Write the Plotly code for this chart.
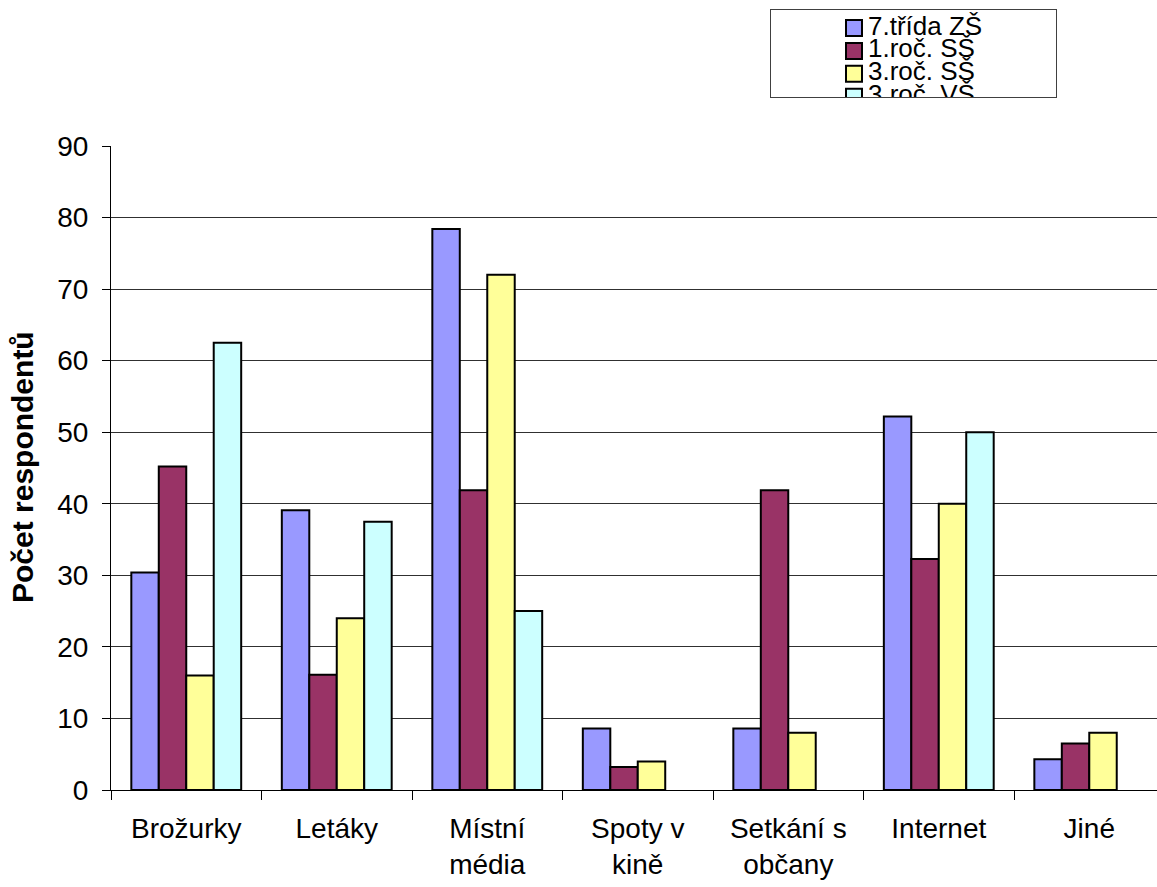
import plotly.graph_objects as go

categories = ["Brožurky", "Letáky", "Místní<br>média", "Spoty v<br>kině",
              "Setkání s<br>občany", "Internet", "Jiné"]

series_names = ["7.třída ZŠ", "1.roč. SŠ", "3.roč. SŠ", "3.roč. VŠ"]
trida7_zs = [30.4, 39.1, 78.4, 8.6, 8.6, 52.2, 4.3]
roc1_ss = [45.2, 16.1, 41.9, 3.2, 41.9, 32.3, 6.5]
roc3_ss = [16.0, 24.0, 72.0, 4.0, 8.0, 40.0, 8.0]
roc3_vs = [62.5, 37.5, 25.0, None, None, 50.0, None]

colors = ["#9999FF", "#993366", "#FFFF99", "#CCFFFF"]
values = [trida7_zs, roc1_ss, roc3_ss, roc3_vs]

FONT = "Liberation Sans, Arial, sans-serif"

# page geometry (pixels)
W, H = 1157, 887
ML, MR, MT, MB = 111, 0, 10, 97
PLOT_TOP = 146
LEG_BOX = (771, 1056, 10, 97)  # left, right, top, bottom

plot_h = H - MT - MB
plot_w = W - ML - MR


def py(y):
    return (H - MB - y) / plot_h


def px(x):
    return (x - ML) / plot_w


fig = go.Figure()
for name, vals, col in zip(series_names, values, colors):
    fig.add_trace(go.Bar(
        x=categories, y=vals, name=name, showlegend=False,
        marker=dict(color=col, line=dict(color="black", width=2)),
    ))

# boxed key in its own small axes, so the last row is clipped by the frame
row_y = [28 + 22.9 * i for i in range(len(series_names))]
fig.add_trace(go.Scatter(
    x=[854] * len(series_names), y=row_y,
    xaxis="x2", yaxis="y2", mode="markers",
    marker=dict(symbol="square", size=16, color=colors,
                line=dict(color="black", width=2)),
    cliponaxis=True, showlegend=False, hoverinfo="skip",
))
fig.add_trace(go.Scatter(
    x=[868] * len(series_names), y=row_y,
    xaxis="x2", yaxis="y2", mode="text", text=series_names,
    textposition="middle right",
    textfont=dict(family=FONT, size=26, color="black"),
    cliponaxis=True, showlegend=False, hoverinfo="skip",
))

# rotated axis title
fig.add_annotation(
    text="<b>Počet respondentů</b>", textangle=-90,
    xref="paper", yref="paper", x=px(23), y=py(467),
    xanchor="center", yanchor="middle", showarrow=False,
    font=dict(family=FONT, size=30, color="black"),
)

fig.update_layout(
    width=W, height=H,
    margin=dict(l=ML, r=MR, t=MT, b=MB, pad=0, autoexpand=False),
    paper_bgcolor="white", plot_bgcolor="white",
    barmode="group", bargap=0.27, bargroupgap=0,
    font=dict(family=FONT, size=28, color="black"),
    showlegend=False,
    xaxis=dict(
        domain=[0, 1], automargin=False,
        range=[-0.5, 6.45],
        showline=True, linecolor="black", linewidth=1,
        ticks="outside", tickson="boundaries", ticklen=9,
        tickcolor="black", tickwidth=1,
        tickfont=dict(family=FONT, size=28),
        ticklabelstandoff=13,
        showgrid=False,
    ),
    yaxis=dict(
        domain=[0, py(PLOT_TOP)], automargin=False,
        range=[0, 90], dtick=10, tick0=0,
        showline=True, linecolor="black", linewidth=1,
        ticks="outside", ticklen=8, tickcolor="black",
        tickfont=dict(family=FONT, size=28),
        ticklabelstandoff=8,
        showgrid=True, gridcolor="#303030", gridwidth=1,
        zeroline=False,
    ),
    xaxis2=dict(
        domain=[px(LEG_BOX[0]), px(LEG_BOX[1])], automargin=False,
        range=[LEG_BOX[0], LEG_BOX[1]], anchor="y2",
        showline=True, mirror=True, linecolor="#404040", linewidth=1,
        showgrid=False, zeroline=False, showticklabels=False, ticks="",
        fixedrange=True,
    ),
    yaxis2=dict(
        domain=[py(LEG_BOX[3]), py(LEG_BOX[2])], automargin=False,
        range=[LEG_BOX[3], LEG_BOX[2]], anchor="x2",
        showline=True, mirror=True, linecolor="#404040", linewidth=1,
        showgrid=False, zeroline=False, showticklabels=False, ticks="",
        fixedrange=True,
    ),
)

fig.write_html("out.html")
